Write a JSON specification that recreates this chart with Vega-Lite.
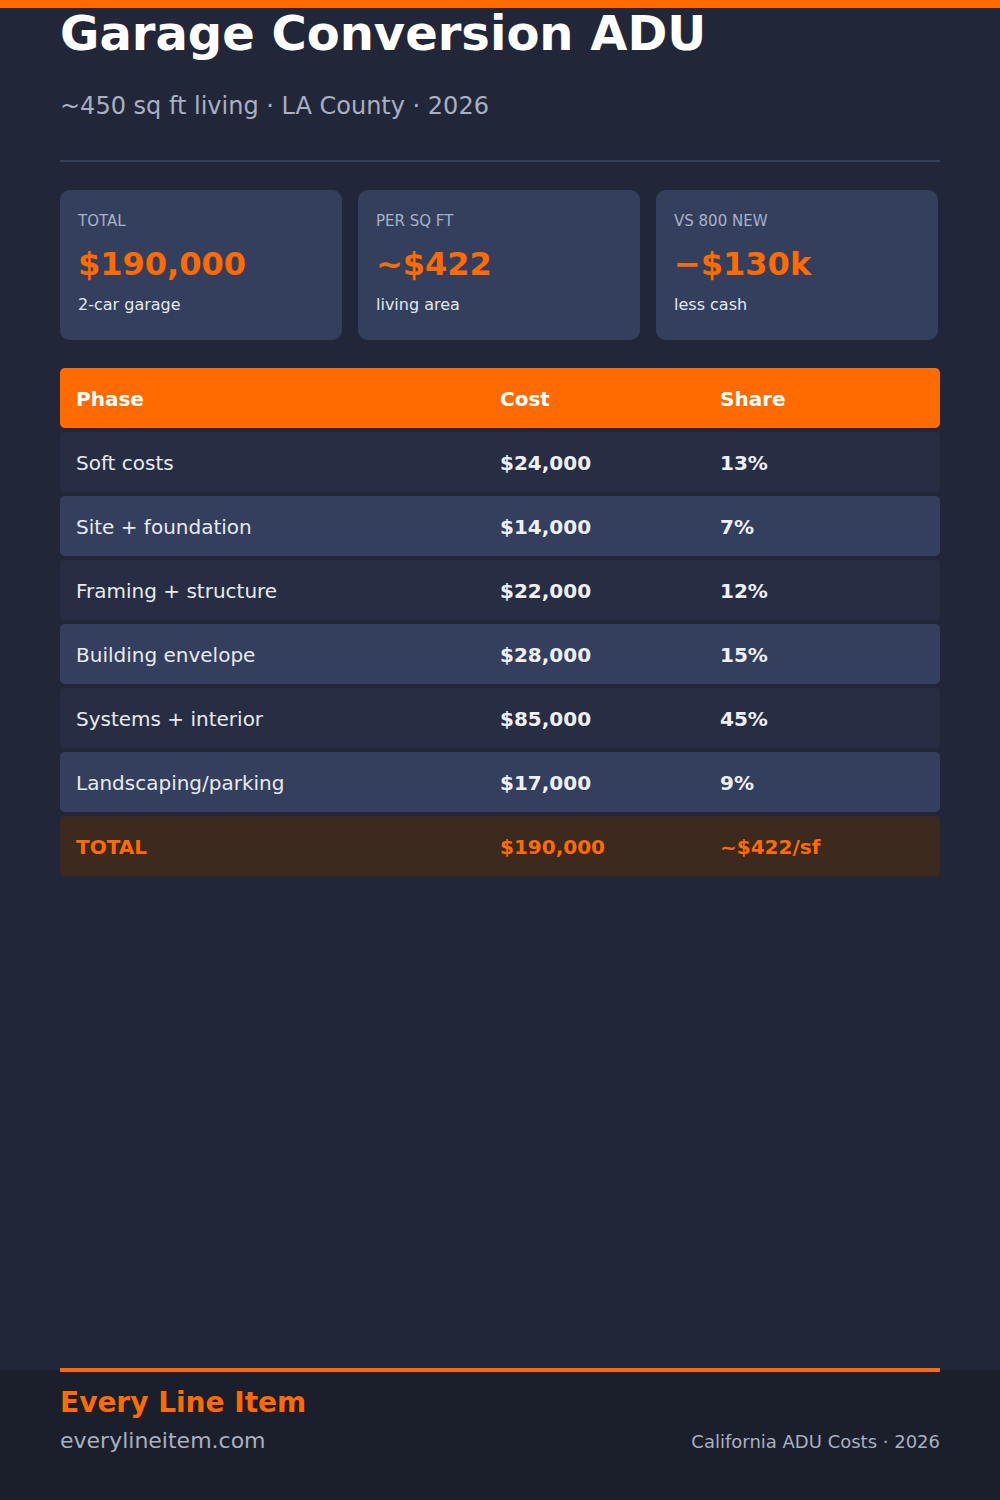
{
  "$schema": "https://vega.github.io/schema/vega-lite/v6.json",
  "description": "Garage Conversion ADU cost breakdown, LA County 2026",
  "width": 1000,
  "height": 1500,
  "autosize": {"type": "fit", "contains": "padding"},
  "padding": 0,
  "background": "#212738",
  "config": {"view": {"stroke": null}, "font": "DejaVu Sans"},
  "datasets": {
    "cards": [
      {"label": "TOTAL", "value": "$190,000", "note": "2-car garage"},
      {"label": "PER SQ FT", "value": "~$422", "note": "living area"},
      {"label": "VS 800 NEW", "value": "−$130k", "note": "less cash"}
    ],
    "phases": [
      {"phase": "Phase", "cost": "Cost", "share": "Share", "kind": "header", "row": 0},
      {"phase": "Soft costs", "cost": "$24,000", "share": "13%", "kind": "item", "row": 1},
      {"phase": "Site + foundation", "cost": "$14,000", "share": "7%", "kind": "item", "row": 2},
      {"phase": "Framing + structure", "cost": "$22,000", "share": "12%", "kind": "item", "row": 3},
      {"phase": "Building envelope", "cost": "$28,000", "share": "15%", "kind": "item", "row": 4},
      {"phase": "Systems + interior", "cost": "$85,000", "share": "45%", "kind": "item", "row": 5},
      {"phase": "Landscaping/parking", "cost": "$17,000", "share": "9%", "kind": "item", "row": 6},
      {"phase": "TOTAL", "cost": "$190,000", "share": "~$422/sf", "kind": "total", "row": 7}
    ]
  },
  "layer": [
    {
      "data": {"values": [{}]},
      "mark": {"type": "rect", "x": 0, "x2": 1000, "y": 0, "y2": 8, "color": "#ff6b00"},
      "encoding": {}
    },
    {
      "data": {"values": [{}]},
      "mark": {"type": "text", "x": 60, "y": 50, "text": "Garage Conversion ADU", "align": "left", "baseline": "alphabetic", "fontSize": 48, "fontWeight": "bold", "color": "#ffffff"},
      "encoding": {}
    },
    {
      "data": {"values": [{}]},
      "mark": {"type": "text", "x": 60, "y": 114, "text": "~450 sq ft living · LA County · 2026", "align": "left", "baseline": "alphabetic", "fontSize": 24, "color": "#a9b0c2"},
      "encoding": {}
    },
    {
      "data": {"values": [{}]},
      "mark": {"type": "rect", "x": 60, "x2": 940, "y": 160, "y2": 162, "color": "#363f5a"},
      "encoding": {}
    },
    {
      "data": {"name": "cards"},
      "layer": [
        {
          "mark": {"type": "rect", "y": 190, "y2": 340, "cornerRadius": 10, "color": "#343f5e"},
          "encoding": {
            "x": {"field": "label", "type": "nominal", "axis": null,
              "scale": {"type": "band", "domain": ["TOTAL", "PER SQ FT", "VS 800 NEW"], "range": [60, 938], "paddingInner": 0.0537, "paddingOuter": 0}}
          }
        },
        {
          "mark": {"type": "text", "y": 226, "dx": 18, "align": "left", "baseline": "alphabetic", "fontSize": 15, "color": "#a9b1c6"},
          "encoding": {
            "x": {"field": "label", "type": "nominal", "bandPosition": 0, "axis": null},
            "text": {"field": "label"}
          }
        },
        {
          "mark": {"type": "text", "y": 275, "dx": 18, "align": "left", "baseline": "alphabetic", "fontSize": 32, "fontWeight": "bold", "color": "#ff6b00"},
          "encoding": {
            "x": {"field": "label", "type": "nominal", "bandPosition": 0, "axis": null},
            "text": {"field": "value"}
          }
        },
        {
          "mark": {"type": "text", "y": 310, "dx": 18, "align": "left", "baseline": "alphabetic", "fontSize": 16, "color": "#e4e7ee"},
          "encoding": {
            "x": {"field": "label", "type": "nominal", "bandPosition": 0, "axis": null},
            "text": {"field": "note"}
          }
        }
      ]
    },
    {
      "data": {"name": "phases"},
      "layer": [
        {
          "mark": {"type": "rect", "x": 60, "x2": 940, "cornerRadius": 5},
          "encoding": {
            "y": {"field": "phase", "type": "nominal", "axis": null,
              "scale": {"type": "band", "domain": ["Phase", "Soft costs", "Site + foundation", "Framing + structure", "Building envelope", "Systems + interior", "Landscaping/parking", "TOTAL"], "range": [368, 876], "paddingInner": 0.0625, "paddingOuter": 0}},
            "color": {
              "condition": [
                {"test": "datum.kind === 'header'", "value": "#ff6b00"},
                {"test": "datum.kind === 'total'", "value": "#3b2a1d"},
                {"test": "datum.row % 2 === 1", "value": "#272e44"}
              ],
              "value": "#343f5e"
            }
          }
        },
        {
          "transform": [{"filter": "datum.kind === 'item'"}],
          "mark": {"type": "text", "dx": 16, "dy": 2, "align": "left", "baseline": "middle", "fontSize": 20, "color": "#e8eaf0"},
          "encoding": {
            "x": {"datum": "phase", "type": "nominal", "bandPosition": 0, "axis": null,
              "scale": {"type": "band", "domain": ["phase", "gap", "cost", "share"], "range": [60, 940], "paddingInner": 0, "paddingOuter": 0}},
            "y": {"field": "phase", "type": "nominal", "axis": null},
            "text": {"field": "phase"}
          }
        },
        {
          "transform": [{"filter": "datum.kind !== 'item'"}],
          "mark": {"type": "text", "dx": 16, "dy": 2, "align": "left", "baseline": "middle", "fontSize": 20, "fontWeight": "bold"},
          "encoding": {
            "x": {"datum": "phase", "type": "nominal", "bandPosition": 0, "axis": null},
            "y": {"field": "phase", "type": "nominal", "axis": null},
            "text": {"field": "phase"},
            "color": {"condition": {"test": "datum.kind === 'header'", "value": "#ffffff"}, "value": "#ff6b00"}
          }
        },
        {
          "transform": [{"fold": ["cost", "share"], "as": ["column", "cell"]}],
          "mark": {"type": "text", "dy": 2, "align": "left", "baseline": "middle", "fontSize": 20, "fontWeight": "bold"},
          "encoding": {
            "x": {"field": "column", "type": "nominal", "bandPosition": 0, "axis": null},
            "y": {"field": "phase", "type": "nominal", "axis": null},
            "text": {"field": "cell"},
            "color": {
              "condition": [
                {"test": "datum.kind === 'header'", "value": "#ffffff"},
                {"test": "datum.kind === 'total'", "value": "#ff6b00"}
              ],
              "value": "#eef0f6"
            }
          }
        }
      ]
    },
    {
      "data": {"values": [{}]},
      "mark": {"type": "rect", "x": 0, "x2": 1000, "y": 1370, "y2": 1500, "color": "#1b1f2b"},
      "encoding": {}
    },
    {
      "data": {"values": [{}]},
      "mark": {"type": "rect", "x": 60, "x2": 940, "y": 1368, "y2": 1372, "color": "#ff6b00"},
      "encoding": {}
    },
    {
      "data": {"values": [{}]},
      "mark": {"type": "text", "x": 60, "y": 1412, "text": "Every Line Item", "align": "left", "baseline": "alphabetic", "fontSize": 28, "fontWeight": "bold", "color": "#ff6b00"},
      "encoding": {}
    },
    {
      "data": {"values": [{}]},
      "mark": {"type": "text", "x": 60, "y": 1448, "text": "everylineitem.com", "align": "left", "baseline": "alphabetic", "fontSize": 22, "color": "#a9b0c0"},
      "encoding": {}
    },
    {
      "data": {"values": [{}]},
      "mark": {"type": "text", "x": 940, "y": 1448, "text": "California ADU Costs · 2026", "align": "right", "baseline": "alphabetic", "fontSize": 18, "color": "#a9b0c0"},
      "encoding": {}
    }
  ],
  "resolve": {"scale": {"x": "independent", "y": "independent"}}
}
